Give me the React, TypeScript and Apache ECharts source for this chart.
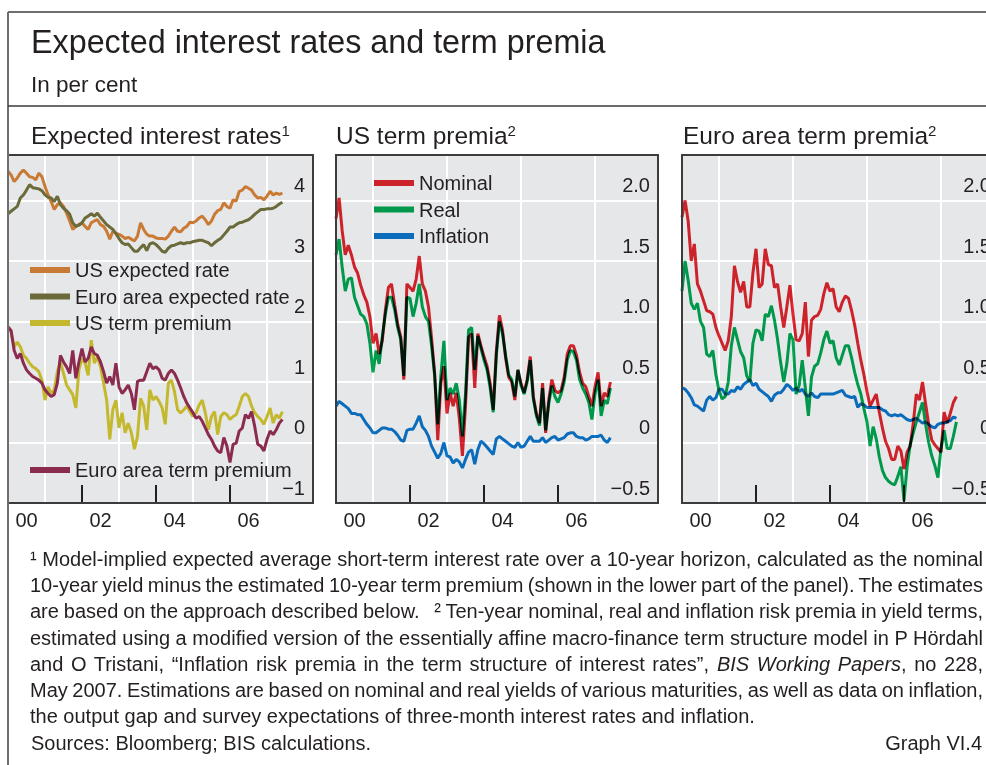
import React, { useEffect, useRef } from 'react';
import * as echarts from 'echarts';

// ---------- Data (monthly, January 2000 to June 2007) ----------
const START_YEAR = 2000;
const TICK_YEARS = [2001, 2002, 2003, 2004, 2005, 2006, 2007];
const GRID_YEARS = [2001, 2003, 2005, 2007];
const LABEL_YEARS = [2000, 2002, 2004, 2006];

const usExpectedRate = [
  4.48, 4.42, 4.31, 4.37, 4.45, 4.5, 4.45, 4.39, 4.38, 4.34,
  4.45, 4.39, 4.23, 4.09, 3.98, 3.85, 3.93, 3.96, 3.9, 3.79,
  3.66, 3.52, 3.57, 3.6, 3.63, 3.57, 3.52, 3.63, 3.66, 3.68,
  3.6, 3.57, 3.49, 3.36, 3.49, 3.46, 3.44, 3.41, 3.37, 3.39,
  3.36, 3.33, 3.41, 3.63, 3.52, 3.44, 3.41, 3.41, 3.38, 3.37,
  3.37, 3.36, 3.41, 3.49, 3.56, 3.49, 3.48, 3.54, 3.57, 3.64,
  3.63, 3.66, 3.71, 3.74, 3.68, 3.6, 3.66, 3.77, 3.83, 3.85,
  3.96, 3.9, 3.87, 4.01, 3.99, 4.15, 4.17, 4.23, 4.2, 4.17,
  4.09, 4.04, 4.05, 4.01, 4.07, 4.15, 4.09, 4.12, 4.1, 4.12,
];
const euroExpectedRate = [
  3.78, 3.82, 3.86, 3.9, 4.04, 4.09, 4.17, 4.26, 4.21, 4.2,
  4.19, 4.16, 4.09, 4.05, 4.04, 3.98, 4.07, 3.93, 3.87, 3.83,
  3.77, 3.63, 3.57, 3.59, 3.63, 3.71, 3.74, 3.78, 3.74, 3.79,
  3.72, 3.66, 3.6, 3.56, 3.52, 3.45, 3.37, 3.3, 3.27, 3.28,
  3.22, 3.16, 3.16, 3.22, 3.27, 3.17, 3.28, 3.3, 3.27, 3.22,
  3.16, 3.14, 3.21, 3.25, 3.26, 3.28, 3.3, 3.28, 3.3, 3.3,
  3.32, 3.33, 3.34, 3.34, 3.32, 3.3, 3.25, 3.3, 3.34, 3.37,
  3.43, 3.49, 3.56, 3.56, 3.6, 3.63, 3.64, 3.66, 3.68, 3.72,
  3.77, 3.81, 3.85, 3.85, 3.86, 3.86, 3.87, 3.9, 3.94, 3.97,
];
const usTermPremium = [
  1.91, 1.83, 1.58, 1.66, 1.58, 1.44, 1.39, 1.31, 1.25, 1.22,
  1.17, 1.03, 0.7, 0.92, 0.81, 0.87, 1.17, 1.33, 1.14, 0.95,
  0.87, 0.79, 0.57, 1.2, 1.39, 1.31, 1.11, 1.69, 1.31, 1.42,
  1.25, 0.98, 0.7, 0.05, 0.54, 0.7, 0.24, 0.49, 0.16, 0.32,
  0.16, -0.11, 0.1, 0.73, 0.6, 0.21, 0.87, 0.7, 0.76, 0.68,
  0.57, 0.3, 0.98, 1.03, 0.84, 0.54, 0.49, 0.54, 0.6, 0.51,
  0.43, 0.49, 0.62, 0.7, 0.49, 0.21, 0.43, 0.51, 0.13, 0.43,
  0.49, 0.46, 0.38, 0.43, 0.46, 0.6, 0.76, 0.81, 0.76, 0.6,
  0.49, 0.43, 0.38, 0.3, 0.43, 0.57, 0.32, 0.46, 0.4, 0.51,
];
const euroTermPremium = [
  1.91, 1.85, 1.52, 1.39, 1.47, 1.31, 1.2, 1.14, 1.09, 1.06,
  1.03, 0.98, 0.87, 0.81, 0.76, 0.79, 0.98, 1.44, 1.33, 1.25,
  1.14, 1.52, 1.06, 1.33, 1.55, 1.33, 1.39, 1.58, 1.47, 1.44,
  1.33, 1.17, 0.98, 1.09, 0.95, 1.31, 0.92, 0.81, 0.87, 0.95,
  0.81, 0.54, 1.01, 1.03, 1.03, 1.17, 1.31, 1.22, 1.25, 1.2,
  1.06, 1.03, 1.14, 1.2, 1.14, 1.03, 0.9, 0.76, 0.65, 0.57,
  0.49, 0.4, 0.43, 0.35, 0.24, 0.13, 0.05, -0.06, -0.14, -0.17,
  0.08, -0.06, -0.33, -0.03, -0.01, 0.19, 0.24, 0.46, 0.4, 0.51,
  0.27, -0.03, -0.06, -0.14, 0.05, 0.19, 0.13, 0.21, 0.32, 0.38,
];

const usNominal = [
  1.85, 2.02, 1.75, 1.55, 1.63, 1.55, 1.45, 1.4, 1.3, 1.22,
  1.16, 1.04, 0.82, 0.9, 0.73, 0.84, 1.09, 1.28, 1.31, 1.14,
  0.98, 0.87, 0.52, 1.31, 1.28, 1.25, 1.35, 1.54, 1.31, 1.25,
  1.12, 0.86, 0.57, 0.02, 0.49, 0.63, 0.24, 0.41, 0.3, 0.41,
  0.2, -0.11, 0.3, 0.87, 0.9, 0.45, 0.9, 0.8, 0.71, 0.63,
  0.49, 0.27, 0.75, 1.05, 0.93, 0.7, 0.54, 0.5, 0.35, 0.6,
  0.49, 0.41, 0.52, 0.71, 0.38, 0.24, 0.16, 0.49, 0.08, 0.35,
  0.52, 0.43, 0.41, 0.43, 0.54, 0.73, 0.8, 0.8, 0.72, 0.58,
  0.49, 0.46, 0.38, 0.3, 0.46, 0.58, 0.3, 0.41, 0.38, 0.5,
];
const usReal = [
  1.55, 1.68, 1.45, 1.25, 1.35, 1.36, 1.2, 1.13, 1.06, 1.04,
  0.98, 0.82, 0.58, 0.76, 0.65, 0.87, 1.06, 1.2, 1.2, 1.1,
  0.95, 0.85, 0.55, 1.2, 1.19, 1.04, 1.15, 1.31, 1.12, 1.04,
  1.0, 0.8, 0.55, 0.15, 0.55, 0.84, 0.35, 0.45, 0.4, 0.49,
  0.35, 0.05, 0.4, 0.93, 0.95, 0.6, 0.88, 0.78, 0.68, 0.6,
  0.45, 0.25, 0.72, 1.0, 0.9, 0.72, 0.56, 0.52, 0.38, 0.6,
  0.47, 0.4, 0.5, 0.68, 0.36, 0.22, 0.14, 0.45, 0.1, 0.32,
  0.47, 0.38, 0.33, 0.4, 0.5, 0.68, 0.76, 0.75, 0.68, 0.52,
  0.45, 0.4, 0.33, 0.19, 0.4, 0.52, 0.22, 0.35, 0.32, 0.45,
];
const usInflation = [
  0.3, 0.34, 0.32, 0.3, 0.28, 0.24, 0.24, 0.23, 0.23, 0.19,
  0.15, 0.12, 0.08, 0.08, 0.1, 0.12, 0.12, 0.11, 0.11, 0.09,
  0.06, 0.02, 0.01, 0.1, 0.11, 0.11, 0.16, 0.22, 0.13, 0.1,
  0.05, -0.03, -0.08, -0.13, -0.09, 0.0, -0.11, -0.12, -0.17, -0.14,
  -0.16, -0.21, -0.14, -0.08, -0.06, -0.18, -0.06, 0.01, -0.01, -0.04,
  -0.07, -0.1, 0.03, 0.05, 0.03, 0.01, -0.01, -0.03, -0.04, 0.0,
  -0.04, -0.03, 0.01, 0.05, 0.01, 0.01, 0.01, 0.04, 0.0, 0.02,
  0.04, 0.05, 0.02, 0.03, 0.04, 0.07, 0.08, 0.08, 0.05, 0.04,
  0.04, 0.02, 0.03, 0.05, 0.05, 0.05, 0.06, 0.02, 0.0, 0.04,
];

const euroNominal = [
  1.86, 2.0, 1.83, 1.5, 1.64, 1.31, 1.25, 1.17, 1.09, 1.08,
  1.06, 0.95, 0.88, 0.82, 0.76, 0.84, 1.04, 1.46, 1.33, 1.24,
  1.33, 1.12, 1.12, 1.4, 1.6, 1.28, 1.31, 1.6, 1.47, 1.46,
  1.28, 1.31, 1.12, 0.95, 1.12, 1.3, 1.06, 0.85, 0.84, 0.9,
  1.16, 0.71, 1.01, 1.04, 1.05, 1.1, 1.23, 1.32, 1.25, 1.27,
  1.12, 1.08, 1.16, 1.21, 1.19, 1.09, 0.97, 0.82, 0.68, 0.56,
  0.42, 0.3, 0.35, 0.4, 0.25, 0.12, 0.01, -0.05, -0.14, -0.14,
  -0.03, -0.07, -0.22, -0.08, -0.03, 0.16, 0.4, 0.35, 0.5, 0.32,
  0.15, 0.02, -0.02, -0.05, -0.08, 0.25, 0.16, 0.24, 0.33, 0.38,
];
const euroReal = [
  1.25, 1.5, 1.34, 1.15, 1.1, 1.15, 1.0, 0.95, 0.73, 0.71,
  0.76, 0.56, 0.43, 0.36, 0.38, 0.5, 0.8, 0.95, 0.85, 0.75,
  0.7, 0.55, 0.5, 0.82, 0.93, 0.92, 0.84, 1.06, 1.04, 1.13,
  1.01, 0.85, 0.66, 0.5, 0.65, 0.9, 0.85, 0.4, 0.47, 0.68,
  0.45, 0.22, 0.54, 0.63, 0.65, 0.74, 0.85, 0.92, 0.82, 0.84,
  0.7, 0.64, 0.72, 0.8, 0.8, 0.7, 0.58, 0.48, 0.4, 0.28,
  0.17, -0.03, 0.13, 0.03, -0.12, -0.23, -0.29, -0.32, -0.34, -0.35,
  -0.28, -0.2, -0.48, -0.2, -0.02, 0.08, 0.17, 0.25, 0.33, 0.15,
  0.0, -0.11, -0.19, -0.29, -0.05, 0.1, -0.05, -0.05, 0.05, 0.17,
];
const euroInflation = [
  0.45, 0.44, 0.41, 0.37, 0.31, 0.3, 0.28, 0.26, 0.35, 0.38,
  0.35, 0.37, 0.44, 0.44, 0.4, 0.4, 0.43, 0.42, 0.46, 0.44,
  0.48, 0.5, 0.52, 0.47, 0.49, 0.44, 0.42, 0.4, 0.38, 0.34,
  0.39, 0.41, 0.41, 0.44, 0.48, 0.46, 0.43, 0.45, 0.42, 0.44,
  0.4, 0.38, 0.41, 0.38, 0.37, 0.4, 0.4, 0.4, 0.4, 0.4,
  0.41, 0.42, 0.43, 0.39, 0.38, 0.37, 0.38, 0.29, 0.32, 0.31,
  0.29, 0.29, 0.29, 0.29, 0.29, 0.27, 0.26, 0.23, 0.22, 0.23,
  0.22, 0.23, 0.21, 0.19, 0.18, 0.19, 0.2, 0.18, 0.16, 0.17,
  0.15, 0.13, 0.12, 0.15, 0.16, 0.16, 0.17, 0.18, 0.21, 0.2,
];

// ---------- Texts ----------
const TITLE = 'Expected interest rates and term premia';
const SUBTITLE = 'In per cent';
const PANEL_TITLES = [
  { text: 'Expected interest rates', note: '1' },
  { text: 'US term premia', note: '2' },
  { text: 'Euro area term premia', note: '2' },
];
const LEGEND_PANEL1_TOP = ['US expected rate', 'Euro area expected rate', 'US term premium'];
const LEGEND_PANEL1_BOTTOM = ['Euro area term premium'];
const LEGEND_PANEL2 = ['Nominal', 'Real', 'Inflation'];
const FOOTNOTES = [
  '¹ Model-implied expected average short-term interest rate over a 10-year horizon, calculated as the nominal',
  '10-year yield minus the estimated 10-year term premium (shown in the lower part of the panel). The estimates',
  'are based on the approach described below.   ² Ten-year nominal, real and inflation risk premia in yield terms,',
  'estimated using a modified version of the essentially affine macro-finance term structure model in P Hördahl',
  null, // line with italic part, see FOOTNOTE_ITALIC_LINE
  'May 2007. Estimations are based on nominal and real yields of various maturities, as well as data on inflation,',
  'the output gap and survey expectations of three-month interest rates and inflation.',
];
const FOOTNOTE_ITALIC_LINE = [
  'and O Tristani, “Inflation risk premia in the term structure of interest rates”, ',
  'BIS Working Papers',
  ', no 228,',
];
const SOURCES = 'Sources: Bloomberg; BIS calculations.';
const GRAPH_ID = 'Graph VI.4';

// ---------- Styling / layout ----------
const FONT = '"Liberation Sans", Arial, Helvetica, sans-serif';
const INK = '#231f20';
const PLOT_BG = '#e6e7e9';
const COLORS = {
  usExp: '#c97a35',
  euExp: '#6b6a3b',
  usTP: '#c4b92e',
  euTP: '#8b2b4f',
  nominal: '#e3262f',
  real: '#00a851',
  inflation: '#0b77cc',
};
const NOTE_SIZE = 20;
const NOTE_LEFT = 30;
const NOTE_RIGHT = 983;
const NOTE_TOP = 559;
const NOTE_STEP = 26.2;

const PX_PER_YEAR = 37;
const PANELS = [
  { left: 8, top: 155, width: 305, height: 348, yMin: -1, yMax: 4.75, yInterval: 1, half: false },
  { left: 336, top: 155, width: 322, height: 348, yMin: -0.5, yMax: 2.375, yInterval: 0.5, half: true },
  { left: 682, top: 155, width: 317, height: 348, yMin: -0.5, yMax: 2.375, yInterval: 0.5, half: true },
];
const PANEL_TITLE_X = [31, 336, 683];

const toPoints = (values: number[]) => values.map((v, i) => [START_YEAR + i / 12, v]);

const fmtInt = (v: number) => {
  if (Math.abs(v - Math.round(v)) > 1e-6) return '';
  const r = Math.round(v);
  return r < 0 ? '\u2212' + Math.abs(r) : String(r);
};
const fmtHalf = (v: number) => {
  const d = v * 2;
  if (Math.abs(d - Math.round(d)) > 1e-6) return '';
  if (Math.abs(v) < 1e-9) return '0';
  const s = Math.abs(v).toFixed(1);
  return v < 0 ? '\u2212' + s : s;
};
const fmtYear = (v: number) => {
  const r = Math.round(v);
  if (Math.abs(v - r) > 1e-6 || !LABEL_YEARS.includes(r)) return '';
  return String(r).slice(2);
};

let colorCtx: CanvasRenderingContext2D | null = null;
function normColor(c: string): string {
  if (!colorCtx) colorCtx = document.createElement('canvas').getContext('2d');
  if (!colorCtx) return c.toLowerCase();
  colorCtx.fillStyle = '#010203';
  colorCtx.fillStyle = c;
  return String(colorCtx.fillStyle).toLowerCase();
}

// Overlapping nominal / real / inflation lines darken each other (multiply), as in the original.
function blendPass(root: HTMLElement) {
  const svg = root.querySelector('svg');
  if (!svg) return;
  const targets = [COLORS.nominal, COLORS.real, COLORS.inflation].map(normColor);
  svg.querySelectorAll('path, polyline').forEach((node) => {
    const el = node as SVGElement;
    const s = el.getAttribute('stroke');
    const f = el.getAttribute('fill');
    const hit = (s && s !== 'none' && targets.includes(normColor(s))) || (f && f !== 'none' && targets.includes(normColor(f)));
    if (!hit) return;
    el.style.mixBlendMode = 'multiply';
    if (el.hasAttribute('clip-path')) el.removeAttribute('clip-path');
    let a = el.parentElement as Element | null;
    while (a && a !== svg) {
      if (a.hasAttribute('clip-path')) a.removeAttribute('clip-path');
      a = a.parentElement;
    }
  });
}

let measureCtx: CanvasRenderingContext2D | null = null;
function measure(t: string, italic = false) {
  if (!measureCtx) measureCtx = document.createElement('canvas').getContext('2d');
  if (!measureCtx) return t.length * NOTE_SIZE * 0.5;
  measureCtx.font = `${italic ? 'italic ' : ''}${NOTE_SIZE}px ${FONT}`;
  return measureCtx.measureText(t).width;
}
const countSpaces = (t: string) => (t.match(/ /g) || []).length;

function italicLineLayout() {
  const [a, b, c] = FOOTNOTE_ITALIC_LINE;
  const wa = measure(a);
  const wb = measure(b, true);
  const wc = measure(c);
  const spaces = countSpaces(a) + countSpaces(b) + countSpaces(c);
  const extra = NOTE_RIGHT - NOTE_LEFT - (wa + wb + wc);
  const per = spaces > 0 ? extra / spaces : 0;
  const xb = NOTE_LEFT + wa + per * countSpaces(a);
  const xc = xb + wb + per * countSpaces(b);
  return { per, xb, xc };
}

function justify(root: HTMLElement) {
  const layout = italicLineLayout();
  const full = FOOTNOTES.slice(0, 6).filter((l) => !!l) as string[];
  root.querySelectorAll('text').forEach((node) => {
    const el = node as SVGTextElement;
    const content = el.textContent || '';
    if (full.includes(content)) {
      el.style.wordSpacing = '0px';
      const len = el.getComputedTextLength();
      const sp = countSpaces(content);
      if (sp > 0 && len > 0) {
        el.style.wordSpacing = `${(NOTE_RIGHT - NOTE_LEFT - len) / sp}px`;
      }
    } else if (FOOTNOTE_ITALIC_LINE.map((s) => s.trim()).includes(content.trim())) {
      el.style.wordSpacing = `${layout.per}px`;
    }
  });
}

function buildOption() {
  const grids = PANELS.map((p) => ({
    left: p.left,
    top: p.top,
    width: p.width,
    height: p.height,
    show: true,
    backgroundColor: PLOT_BG,
    borderWidth: 0,
    containLabel: false,
    outerBoundsMode: 'none',
  }));

  const xAxes = PANELS.map((p, k) => ({
    type: 'value',
    gridIndex: k,
    min: START_YEAR,
    max: START_YEAR + p.width / PX_PER_YEAR,
    interval: 1,
    axisLine: { show: false, onZero: false },
    axisTick: {
      show: true,
      inside: true,
      length: 18,
      customValues: TICK_YEARS,
      lineStyle: { color: INK, width: 2 },
    },
    splitLine: { show: false },
    axisLabel: {
      show: true,
      customValues: LABEL_YEARS,
      formatter: fmtYear,
      fontSize: 20,
      fontFamily: FONT,
      color: INK,
      margin: 7,
      align: 'center',
      padding: [0, 0, 0, 37],
    },
  }));

  const yAxes = PANELS.map((p, k) => ({
    type: 'value',
    gridIndex: k,
    position: 'right',
    min: p.yMin,
    max: p.yMax,
    interval: p.yInterval,
    axisLine: { show: false, onZero: false },
    axisTick: { show: false },
    splitLine: { show: true, lineStyle: { color: '#ffffff', width: 2 } },
    axisLabel: {
      inside: true,
      margin: 8,
      formatter: p.half ? fmtHalf : fmtInt,
      fontSize: 20,
      fontFamily: FONT,
      color: INK,
      verticalAlign: 'bottom',
      lineHeight: 30,
    },
  }));

  const line = (name: string, data: number[], color: string, k: number) => ({
    type: 'line',
    name,
    xAxisIndex: k,
    yAxisIndex: k,
    data: toPoints(data),
    showSymbol: false,
    symbol: 'none',
    color,
    itemStyle: { color },
    lineStyle: { width: 3, color },
    silent: true,
    clip: false,
    z: 3,
  });

  // vertical white grid lines every second year, drawn through each panel's x scale
  const gridLines = (k: number) => ({
    type: 'line',
    name: `grid-${k}`,
    xAxisIndex: k,
    yAxisIndex: k,
    data: [],
    silent: true,
    z: 1,
    markLine: {
      silent: true,
      z: 1,
      animation: false,
      symbol: ['none', 'none'],
      label: { show: false },
      emphasis: { disabled: true },
      lineStyle: { color: '#ffffff', width: 2, type: 'solid', opacity: 1 },
      data: GRID_YEARS.map((y) => ({ xAxis: y })),
    },
  });

  const series = [
    gridLines(0),
    gridLines(1),
    gridLines(2),
    line('US expected rate', usExpectedRate, COLORS.usExp, 0),
    line('Euro area expected rate', euroExpectedRate, COLORS.euExp, 0),
    line('US term premium', usTermPremium, COLORS.usTP, 0),
    line('Euro area term premium', euroTermPremium, COLORS.euTP, 0),
    line('Nominal', usNominal, COLORS.nominal, 1),
    line('Real', usReal, COLORS.real, 1),
    line('Inflation', usInflation, COLORS.inflation, 1),
    line('Euro area nominal', euroNominal, COLORS.nominal, 2),
    line('Euro area real', euroReal, COLORS.real, 2),
    line('Euro area inflation', euroInflation, COLORS.inflation, 2),
  ];

  const legendBase = {
    orient: 'vertical',
    icon: 'rect',
    itemWidth: 40,
    itemHeight: 6,
    itemGap: 6.5,
    padding: 0,
    selectedMode: false,
    textStyle: { fontSize: 20, fontFamily: FONT, color: INK, lineHeight: 20 },
  };

  const text = (t: string, x: number, y: number, size: number, extra: any = {}) => ({
    type: 'text',
    x,
    y,
    z: 120,
    silent: true,
    style: {
      text: t,
      fontSize: size,
      fontFamily: FONT,
      fill: INK,
      align: 'left',
      verticalAlign: 'middle',
      textAlign: 'left',
      textVerticalAlign: 'middle',
      ...extra,
    },
  });

  const graphic: any[] = [
    { type: 'line', z: 110, silent: true, shape: { x1: 8, y1: 12, x2: 1020, y2: 12 }, style: { stroke: '#6d6e70', lineWidth: 2 } },
    { type: 'line', z: 110, silent: true, shape: { x1: 8, y1: 12, x2: 8, y2: 765 }, style: { stroke: '#6d6e70', lineWidth: 2 } },
    { type: 'line', z: 110, silent: true, shape: { x1: 8, y1: 106, x2: 1020, y2: 106 }, style: { stroke: '#3a3a3a', lineWidth: 1.5 } },
    text(TITLE, 31, 42, 32.3),
    text(SUBTITLE, 31, 84, 22.5),
  ];

  PANEL_TITLES.forEach((pt, i) => {
    graphic.push(
      text(`${pt.text}{sup|${pt.note}}`, PANEL_TITLE_X[i], 135, 24.5, {
        rich: {
          sup: {
            fontSize: 15,
            fontFamily: FONT,
            fill: INK,
            verticalAlign: 'top',
          },
        },
      })
    );
  });

  PANELS.forEach((p) => {
    graphic.push({
      type: 'rect',
      z: 100,
      silent: true,
      shape: { x: p.left, y: p.top, width: p.width, height: p.height },
      style: { fill: 'none', stroke: '#3c3c3c', lineWidth: 2 },
    });
  });

  const layout = italicLineLayout();
  FOOTNOTES.forEach((t, i) => {
    const y = NOTE_TOP + NOTE_STEP * i;
    if (t) {
      graphic.push(text(t, NOTE_LEFT, y, NOTE_SIZE));
    } else {
      graphic.push(text(FOOTNOTE_ITALIC_LINE[0], NOTE_LEFT, y, NOTE_SIZE));
      graphic.push(text(FOOTNOTE_ITALIC_LINE[1], layout.xb, y, NOTE_SIZE, { fontStyle: 'italic' }));
      graphic.push(text(FOOTNOTE_ITALIC_LINE[2], layout.xc, y, NOTE_SIZE));
    }
  });
  graphic.push(text(SOURCES, 31, 743, NOTE_SIZE));
  graphic.push(text(GRAPH_ID, 982, 743, NOTE_SIZE, { align: 'right', textAlign: 'right' }));

  return {
    animation: false,
    backgroundColor: '#ffffff',
    grid: grids,
    xAxis: xAxes,
    yAxis: yAxes,
    series,
    legend: [
      { ...legendBase, data: LEGEND_PANEL1_TOP, left: 30, top: 260 },
      { ...legendBase, data: LEGEND_PANEL1_BOTTOM, left: 30, top: 460 },
      { ...legendBase, data: LEGEND_PANEL2, left: 374, top: 173 },
    ],
    graphic,
  };
}

export default function App() {
  const ref = useRef<HTMLDivElement | null>(null);

  useEffect(() => {
    if (!ref.current) return;
    const el = ref.current;
    const chart = echarts.init(el, null, { renderer: 'svg' });
    chart.setOption(buildOption() as any);
    const run = () => {
      justify(el);
      blendPass(el);
    };
    run();
    chart.on('finished', run);
    const timers = [0, 60, 250, 800].map((ms) => window.setTimeout(run, ms));
    return () => {
      timers.forEach((t) => window.clearTimeout(t));
      chart.off('finished', run);
      chart.dispose();
    };
  }, []);

  return (
    <div
      style={{
        position: 'fixed',
        left: 0,
        top: 0,
        width: 986,
        height: 765,
        overflow: 'hidden',
        background: '#ffffff',
      }}
    >
      <div ref={ref} style={{ width: 1020, height: 765 }} />
    </div>
  );
}
